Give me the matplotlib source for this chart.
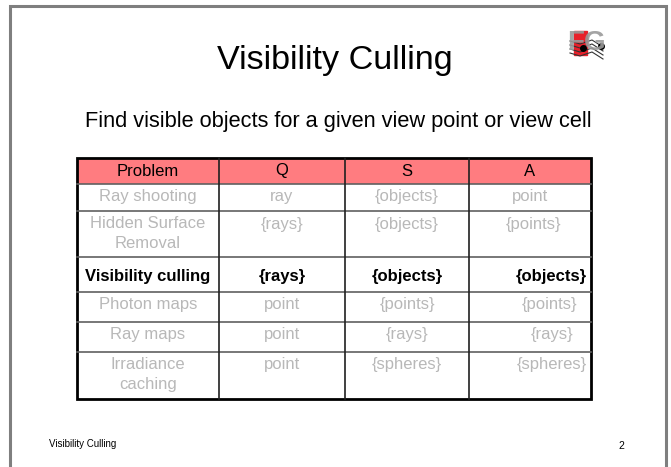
import matplotlib.pyplot as plt
from matplotlib.patches import Rectangle

plt.rcParams['font.family'] = ['Liberation Sans', 'DejaVu Sans']

title = 'Visibility Culling'
subtitle = 'Find visible objects for a given view point or view cell'
footer = 'Visibility Culling'
page = '2'

header = ['Problem', 'Q', 'S', 'A']
problems = ['Ray shooting', 'Hidden Surface\nRemoval', 'Visibility culling',
            'Photon maps', 'Ray maps', 'Irradiance\ncaching']
col_q = ['ray', '{rays}', '{rays}', 'point', 'point', 'point']
col_s = ['{objects}', '{objects}', '{objects}', '{points}', '{rays}', '{spheres}']
col_a = ['point', '{points}', '{objects}', '{points}', '{rays}', '{spheres}']
highlight = 2  # row that is shown in bold black

# layout in pixels
col_edges = [77, 219, 345, 469, 591]
row_edges = [158, 184, 211, 257, 292, 322, 352, 399]
col_x = [148, 282, 407, 530]
a_x = [530, 533, 551, 549, 552, 552]

fig = plt.figure(figsize=(6.71, 4.67), dpi=100)
ax = fig.add_axes([0, 0, 1, 1])
ax.set_xlim(0, 671)
ax.set_ylim(467, 0)
ax.axis('off')

# slide frame
ax.plot([9.5, 9.5, 665.5, 665.5], [470, 5.5, 5.5, 470], color='#7f7f7f', lw=2.2,
        solid_joinstyle='miter')

ax.text(335, 60, title, fontsize=24.6, ha='center', va='center')
ax.text(338, 121, subtitle, fontsize=15.7, ha='center', va='center')
ax.text(49, 444, footer, fontsize=7, ha='left', va='center')
ax.text(621, 446, page, fontsize=7.5, ha='center', va='center')

# logo (rough)
ax.add_patch(Rectangle((574, 31), 13, 24, color='#e8202a'))
ax.text(586, 43, 'FG', fontsize=20, fontweight='bold', color='#9a9a9a',
        ha='center', va='center', alpha=0.9)
for k in range(4):
    ax.plot([570, 580, 592, 603], [41 + k * 4, 44 + k * 4, 40 + k * 4, 47 + k * 4],
            color='#333333', lw=0.8)
ax.plot([601], [46], 'o', color='black', ms=4)
ax.plot([583], [48], 'o', color='black', ms=4)

# header fill
ax.add_patch(Rectangle((col_edges[0], row_edges[0]), col_edges[-1] - col_edges[0],
                       row_edges[1] - row_edges[0], color='#ff7c80', lw=0))

# grid
for y in row_edges[1:-1]:
    ax.plot([col_edges[0], col_edges[-1]], [y, y], color='#606060', lw=1.2)
for x in col_edges[1:-1]:
    ax.plot([x, x], [row_edges[0], row_edges[-1]], color='#202020', lw=1.2)
ax.add_patch(Rectangle((col_edges[0], row_edges[0]), col_edges[-1] - col_edges[0],
                       row_edges[-1] - row_edges[0], fill=False, ec='black', lw=2))

for c, h in enumerate(header):
    ax.text(col_x[c], row_edges[0] + 13, h, fontsize=12, ha='center', va='center')

for r in range(len(problems)):
    top = row_edges[r + 1]
    bold = r == highlight
    color = 'black' if bold else '#b8b8b8'
    weight = 'bold' if bold else 'normal'
    y = top + (20 if bold else 13)
    cells = [problems[r], col_q[r], col_s[r], col_a[r]]
    xs = [col_x[0], col_x[1], col_x[2], a_x[r]]
    for c, txt in enumerate(cells):
        multi = '\n' in txt
        ax.text(xs[c], y - 8 if multi else y, txt, fontsize=12, ha='center',
                va='top' if multi else 'center', color=color, fontweight=weight,
                linespacing=1.45)

fig.savefig('out.png', dpi=100, facecolor='white')
